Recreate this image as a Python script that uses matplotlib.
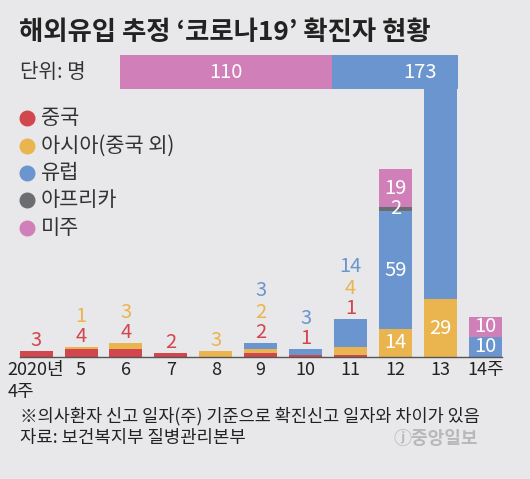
import matplotlib.pyplot as plt
from matplotlib.lines import Line2D

plt.rcParams['font.family'] = ['Noto Sans CJK KR', 'DejaVu Sans']

# data (weekly imported confirmed cases, by region)
weeks = ['2020년\n4주', '5', '6', '7', '8', '9', '10', '11', '12', '13', '14주']
china = [3, 4, 4, 2, 0, 2, 1, 1, 0, 0, 0]
asia = [0, 1, 3, 0, 3, 2, 0, 4, 14, 29, 0]
europe = [0, 0, 0, 0, 0, 3, 3, 14, 59, 173, 10]
africa = [0, 0, 0, 0, 0, 0, 0, 0, 2, 0, 0]
americas = [0, 0, 0, 0, 0, 0, 0, 0, 19, 110, 10]
names = ['중국', '아시아(중국 외)', '유럽', '아프리카', '미주']

series = [china, asia, europe, africa, americas]
colors = ['#d2464d', '#eab44e', '#6a95cf', '#6c6d71', '#d07fb8']
bg = '#e8e8ea'
break_idx = 9  # week 13 is too tall -> broken bar

W, H = 530, 479
fig = plt.figure(figsize=(W / 100, H / 100), dpi=100, facecolor=bg)

num_font = ['Noto Sans CJK KR']
num_size = 14.5

# main stacked bars
ax = fig.add_axes([19.6 / W, (H - 357) / H, (501.9 - 19.6) / W, 302 / H])
ax.set_facecolor('none')
xs = list(range(len(weeks)))
bottom = [0] * len(weeks)
for vals, c in zip(series, colors):
    ax.bar(xs, vals, width=0.734, bottom=bottom, color=c, linewidth=0)
    bottom = [b + v for b, v in zip(bottom, vals)]
ymax = 151
ax.set_xlim(-0.367, 10.367)
ax.set_ylim(0, ymax)
for s in ['top', 'left', 'right']:
    ax.spines[s].set_visible(False)
ax.spines['bottom'].set_color('#555555')
ax.spines['bottom'].set_linewidth(1.0)
ax.set_yticks([])
ax.set_xticks(xs)
ax.set_xticklabels(weeks, fontsize=13, color='#222222', linespacing=1.25)
ax.get_xticklabels()[0].set_multialignment('left')
ax.tick_params(axis='x', length=0, pad=3)

# value labels
for i in xs:
    total = sum(s[i] for s in series)
    if total < 20:
        k = 0
        for s, c in zip(series, colors):
            if s[i] > 0:
                ax.text(i, total + 5 + k * 10.5, str(s[i]), color=c, ha='center',
                        va='center', fontsize=num_size, family=num_font)
                k += 1
    else:
        b = 0
        for s in series:
            if s[i] > 0 and b + s[i] <= ymax:
                ax.text(i, b + s[i] / 2, str(s[i]), color='white', ha='center',
                        va='center', fontsize=num_size, family=num_font)
            b += s[i]

# horizontal part of the broken week-13 bar
hx0, hx1, hy0, hy1 = 120, 458, 55, 89
bh = fig.add_axes([hx0 / W, (H - hy1) / H, (hx1 - hx0) / W, (hy1 - hy0) / H])
bh.set_facecolor('none')
bh.barh(0, americas[break_idx], left=0, height=1, color=colors[4], linewidth=0)
bh.barh(0, europe[break_idx], left=americas[break_idx], height=1, color=colors[2], linewidth=0)
bh.set_xlim(0, (hx1 - hx0) / 212 * americas[break_idx])
bh.set_ylim(-0.5, 0.5)
bh.axis('off')
bh.text(americas[break_idx] / 2, 0, str(americas[break_idx]), color='white',
        ha='center', va='center', fontsize=num_size, family=num_font)
bh.annotate(str(europe[break_idx]), xy=(1, 0.5), xycoords='axes fraction',
            xytext=(-15, 0), textcoords='offset points', color='white',
            ha='right', va='center', fontsize=num_size, family=num_font)

# titles
fig.text(19 / W, 1 - 33 / H, '해외유입 추정 ‘코로나19’ 확진자 현황', fontsize=19,
         fontweight='bold', color='#222222', va='center', ha='left')
fig.text(20 / W, 1 - 72 / H, '단위: 명', fontsize=14.5, color='#333333',
         va='center', ha='left')

# legend
rows = [118, 146, 173, 200, 228]
for y, name, c in zip(rows, names, colors):
    fig.add_artist(Line2D([27 / W], [1 - y / H], marker='o', markersize=10.5,
                          color=c, linestyle='none', transform=fig.transFigure))
    fig.text(41 / W, 1 - y / H, name, fontsize=15, color='#333333',
             va='center', ha='left')

# notes
fig.text(20 / W, 1 - 416 / H, '※의사환자 신고 일자(주) 기준으로 확진신고 일자와 차이가 있음',
         fontsize=12.6, color='#222222', va='center', ha='left')
fig.text(20 / W, 1 - 438 / H, '자료: 보건복지부 질병관리본부', fontsize=12.8,
         color='#222222', va='center', ha='left')
fig.text(478 / W, 1 - 438 / H, 'ⓙ중앙일보', fontsize=13, color='#b8b8b8',
         fontweight='bold', va='center', ha='right')

fig.savefig('out.png', dpi=100, facecolor=bg)
